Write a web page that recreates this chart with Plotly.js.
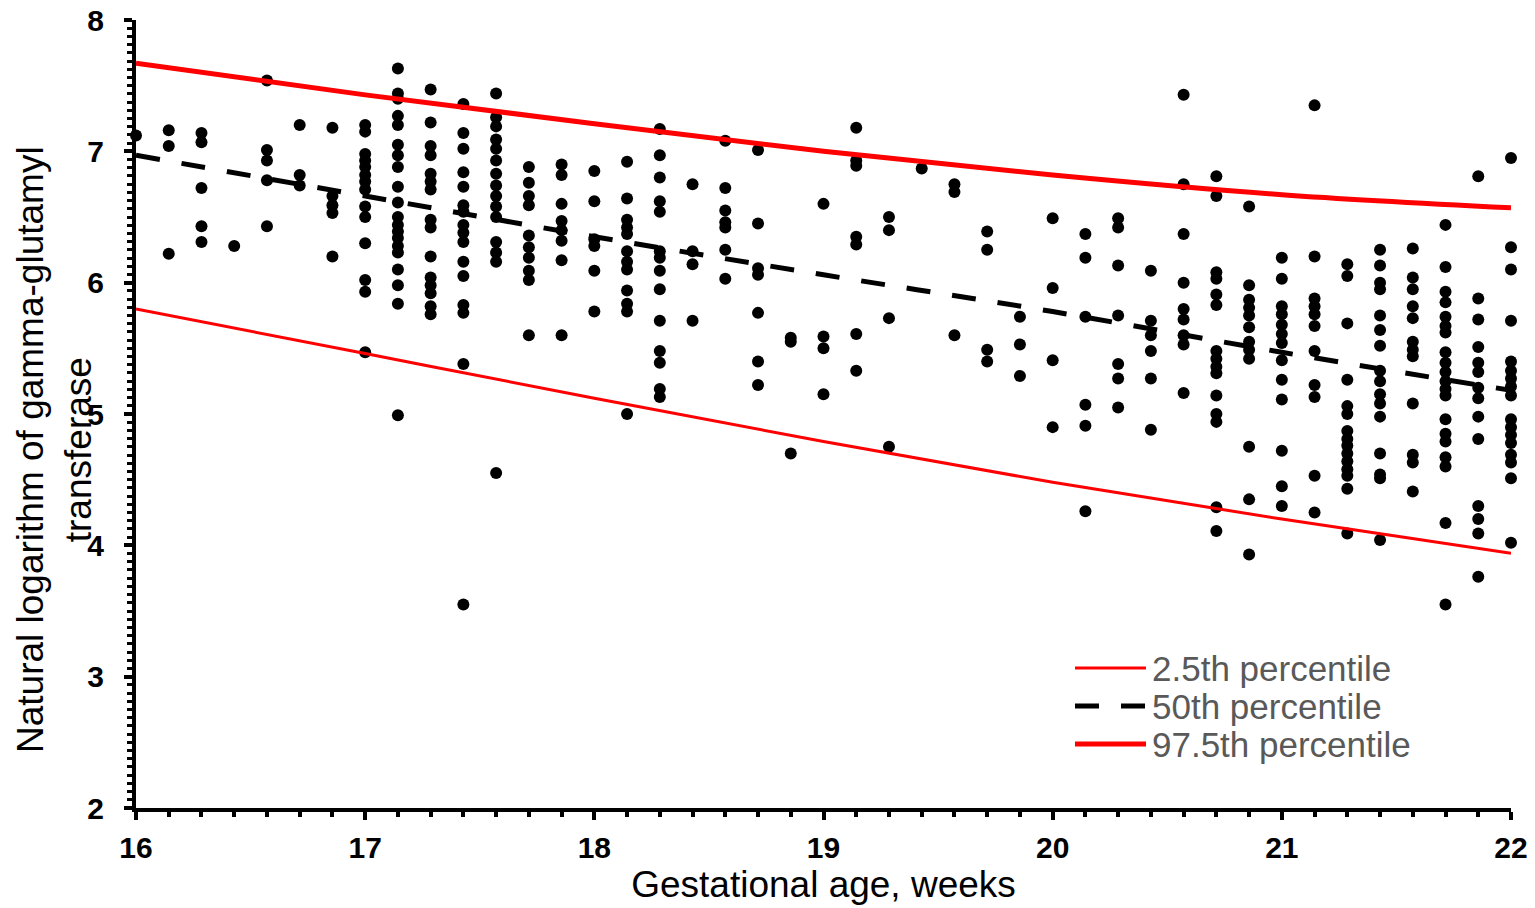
<!DOCTYPE html>
<html>
<head>
<meta charset="utf-8">
<script src="https://cdn.plot.ly/plotly-3.0.1.min.js"></script>
<style>html,body{margin:0;padding:0;background:#fff;}#chart{width:1535px;height:908px;}</style>
</head>
<body>
<div id="chart"></div>
<script>
// Gestational age of each column, in days (16 weeks = 112 days)
const gaDays = [112,113,114,115,116,117,118,119,120,121,122,123,124,125,126,127,128,129,130,131,132,133,134,135,136,137,138,139,140,141,142,143,144,145,146,147,148,149,150,151,152,153,154];
// Natural log of GGT observed in each column (same order as gaDays)
const lnGGT = [
  [7.12],
  [7.16, 7.04, 6.22],
  [7.14, 7.07, 6.72, 6.43, 6.31],
  [6.28],
  [7.54, 7.01, 6.93, 6.78, 6.43],
  [7.2, 6.82, 6.74],
  [7.18, 6.66, 6.59, 6.53, 6.2],
  [7.2, 7.15, 6.98, 6.93, 6.88, 6.82, 6.77, 6.71, 6.58, 6.5, 6.3, 6.02, 5.93, 5.47],
  [7.63, 7.44, 7.40, 7.27, 7.2, 7.05, 6.97, 6.88, 6.73, 6.61, 6.5, 6.44, 6.39, 6.34, 6.28, 6.23, 6.1, 5.98, 5.84, 4.99],
  [7.47, 7.22, 7.04, 6.97, 6.83, 6.77, 6.71, 6.48, 6.42, 6.2, 6.04, 5.98, 5.92, 5.82, 5.76],
  [7.36, 7.14, 7.02, 6.84, 6.73, 6.59, 6.54, 6.44, 6.38, 6.31, 6.16, 6.05, 5.83, 5.77, 5.38, 3.55],
  [7.44, 7.26, 7.19, 7.09, 7.02, 6.93, 6.83, 6.74, 6.66, 6.58, 6.5, 6.31, 6.23, 6.16, 4.55],
  [6.88, 6.76, 6.66, 6.59, 6.36, 6.27, 6.19, 6.09, 6.02, 5.6],
  [6.9, 6.82, 6.6, 6.47, 6.4, 6.32, 6.17, 5.6],
  [6.85, 6.62, 6.33, 6.28, 6.09, 5.78],
  [6.92, 6.64, 6.48, 6.42, 6.37, 6.24, 6.16, 6.1, 5.94, 5.84, 5.78, 5.0],
  [7.17, 6.97, 6.8, 6.62, 6.54, 6.24, 6.19, 6.09, 5.95, 5.71, 5.48, 5.39, 5.19, 5.13],
  [6.75, 6.24, 6.14, 5.71],
  [7.08, 6.72, 6.55, 6.46, 6.42, 6.25, 6.03],
  [7.01, 6.45, 6.11, 6.06, 5.77, 5.4, 5.22],
  [5.58, 5.55, 4.7],
  [6.6, 5.59, 5.5, 5.15],
  [7.18, 6.93, 6.89, 6.35, 6.29, 5.61, 5.33],
  [6.5, 6.4, 5.73, 4.75],
  [6.87],
  [6.75, 6.69, 5.6],
  [6.39, 6.25, 5.49, 5.4],
  [5.74, 5.53, 5.29],
  [6.49, 5.96, 5.41, 4.9],
  [6.37, 6.19, 5.74, 5.07, 4.91, 4.26],
  [6.49, 6.42, 6.13, 5.75, 5.38, 5.27, 5.05],
  [6.09, 5.71, 5.6, 5.48, 5.27, 4.88],
  [7.43, 6.75, 6.37, 6.0, 5.8, 5.72, 5.6, 5.53, 5.16],
  [6.81, 6.66, 6.08, 6.03, 5.91, 5.83, 5.48, 5.42, 5.36, 5.31, 5.14, 5.0, 4.94, 4.29, 4.11],
  [6.58, 5.98, 5.87, 5.81, 5.75, 5.66, 5.55, 5.49, 5.42, 4.75, 4.35, 3.93],
  [6.19, 6.03, 5.82, 5.76, 5.68, 5.61, 5.54, 5.41, 5.26, 5.11, 4.72, 4.45, 4.3],
  [7.35, 6.2, 5.88, 5.82, 5.76, 5.67, 5.48, 5.22, 5.13, 4.53, 4.25],
  [6.14, 6.05, 5.69, 5.26, 5.06, 5.0, 4.87, 4.81, 4.76, 4.7, 4.64, 4.58, 4.53, 4.43, 4.09],
  [6.25, 6.13, 6.0, 5.95, 5.75, 5.64, 5.52, 5.33, 5.25, 5.15, 5.08, 4.98, 4.7, 4.54, 4.51, 4.04],
  [6.26, 6.04, 5.95, 5.82, 5.73, 5.55, 5.49, 5.44, 5.08, 4.69, 4.63, 4.41],
  [6.44, 6.12, 5.93, 5.85, 5.74, 5.67, 5.62, 5.47, 5.39, 5.32, 5.25, 5.19, 5.14, 4.96, 4.85, 4.79, 4.67, 4.6, 4.17, 3.55],
  [6.81, 5.88, 5.72, 5.51, 5.39, 5.32, 5.2, 5.12, 4.98, 4.81, 4.3, 4.2, 4.09, 3.76],
  [6.95, 6.27, 6.1, 5.71, 5.4, 5.33, 5.27, 5.21, 5.14, 4.96, 4.9, 4.84, 4.78, 4.69, 4.63, 4.51, 4.02]
];
// Reference percentile curves
const pctWeeks = [16, 17, 18, 19, 20, 21, 22];
const p2_5  = [5.80, 5.46, 5.12, 4.79, 4.48, 4.20, 3.94];
const p50   = [6.97, 6.66, 6.35, 6.06, 5.78, 5.47, 5.18];
const p97_5 = [7.67, 7.43, 7.21, 7.00, 6.82, 6.67, 6.57];
const legendLabels = ['2.5th percentile', '50th percentile', '97.5th percentile'];
const xTicks = [16, 17, 18, 19, 20, 21, 22];
const yTicks = [2, 3, 4, 5, 6, 7, 8];

const ptX = [], ptY = [];
gaDays.forEach((d, i) => {
  lnGGT[i].forEach(v => { ptX.push(d / 7); ptY.push(v); });
});

const FONT = 'Arial, "Liberation Sans", sans-serif';

const traces = [
  {x: ptX, y: ptY, type: 'scatter', mode: 'markers', name: 'observations', showlegend: false,
   cliponaxis: false, marker: {color: '#000', size: 12}},
  {x: pctWeeks, y: p2_5, type: 'scatter', mode: 'lines', name: legendLabels[0], showlegend: false,
   cliponaxis: false, line: {color: '#FF0000', width: 3, shape: 'spline'}},
  {x: pctWeeks, y: p50, type: 'scatter', mode: 'lines', name: legendLabels[1], showlegend: false,
   cliponaxis: false, line: {color: '#000', width: 5, dash: '24px,22px', shape: 'spline'}},
  {x: pctWeeks, y: p97_5, type: 'scatter', mode: 'lines', name: legendLabels[2], showlegend: false,
   cliponaxis: false, line: {color: '#FF0000', width: 5, shape: 'spline'}}
];

// Custom legend (paper coordinates)
const legStyles = [
  {color: '#FF0000', width: 3, dash: 'solid'},
  {color: '#000', width: 5, dash: '24px,22px'},
  {color: '#FF0000', width: 5, dash: 'solid'}
];
const W = 1375, H = 788, L = 136, T = 20;
const px2x = p => (p - L) / W;
const px2y = p => (T + H - p) / H;
const legRows = [668, 706, 744];
const shapes = [], annotations = [];
legendLabels.forEach((lab, i) => {
  shapes.push({type: 'line', xref: 'paper', yref: 'paper',
    x0: px2x(1075), x1: px2x(1146), y0: px2y(legRows[i]), y1: px2y(legRows[i]),
    line: legStyles[i]});
  annotations.push({xref: 'paper', yref: 'paper', x: px2x(1150), y: px2y(legRows[i]),
    xanchor: 'left', yanchor: 'middle', showarrow: false, text: lab,
    font: {family: FONT, size: 35, color: '#595959'}});
});
annotations.push({xref: 'paper', yref: 'paper', x: px2x(54), y: px2y(450),
  xanchor: 'center', yanchor: 'middle', showarrow: false, textangle: -90,
  text: 'Natural logarithm of gamma-glutamyl<br>transferase',
  font: {family: FONT, size: 37, color: '#000'}});

const layout = {
  width: 1535, height: 908,
  margin: {l: L, r: 24, t: T, b: 100},
  paper_bgcolor: '#fff', plot_bgcolor: '#fff',
  showlegend: false,
  xaxis: {
    range: [16, 22], tickvals: xTicks, ticktext: xTicks.map(String),
    showgrid: false, zeroline: false, showline: true, linecolor: '#000', linewidth: 4,
    ticks: 'outside', ticklen: 8, tickwidth: 4, tickcolor: '#000', ticklabelstandoff: 2,
    tickfont: {family: FONT, size: 30, color: '#000', weight: 'bold'},
    minor: {tick0: 16, dtick: 1 / 7, ticks: 'outside', ticklen: 5, tickwidth: 4, tickcolor: '#000', showgrid: false},
    title: {text: 'Gestational age, weeks', standoff: 4, font: {family: FONT, size: 37, color: '#000'}}
  },
  yaxis: {
    range: [2, 8], tickvals: yTicks, ticktext: yTicks.map(String),
    showgrid: false, zeroline: false, showline: true, linecolor: '#000', linewidth: 4,
    ticks: 'outside', ticklen: 8, tickwidth: 4, tickcolor: '#000', ticklabelstandoff: 14,
    tickfont: {family: FONT, size: 30, color: '#000', weight: 'bold'},
    minor: {tick0: 2, dtick: 0.0625, ticks: 'outside', ticklen: 5, tickwidth: 3, tickcolor: '#000', showgrid: false}
  },
  shapes: shapes,
  annotations: annotations
};

Plotly.newPlot('chart', traces, layout, {displayModeBar: false, staticPlot: true});
</script>
</body>
</html>
